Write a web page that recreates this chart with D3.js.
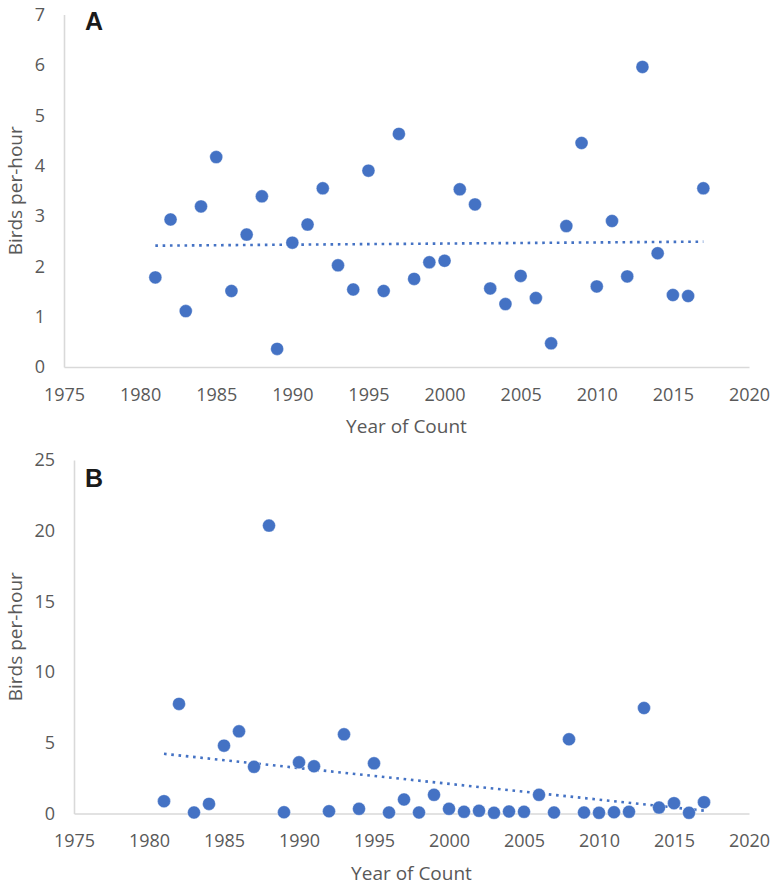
<!DOCTYPE html>
<html><head><meta charset="utf-8">
<script src="https://cdn.jsdelivr.net/npm/d3@7"></script>
<style>
body{margin:0;background:#fff;}
svg{display:block;}
.tick text{font-family:"Open Sans",sans-serif;font-size:18px;fill:#595959;}
.ttl{font-family:"Open Sans",sans-serif;font-size:19px;fill:#595959;}
.pl{font-family:"Liberation Sans",Arial,sans-serif;font-size:25px;font-weight:bold;fill:#1a1a1a;}
</style></head>
<body>
<script>
const years = d3.range(1981, 2018);
const valuesA = [1.78,2.93,1.11,3.19,4.17,1.51,2.63,3.39,0.36,2.47,2.83,3.55,2.02,1.54,3.90,1.51,4.63,1.75,2.08,2.11,3.53,3.23,1.56,1.25,1.81,1.37,0.47,2.80,4.45,1.60,2.90,1.80,5.96,2.26,1.43,1.41,3.55];
const valuesB = [0.87,7.75,0.07,0.68,4.80,5.81,3.30,20.36,0.09,3.62,3.34,0.16,5.60,0.33,3.55,0.07,0.99,0.07,1.32,0.33,0.12,0.19,0.05,0.14,0.12,1.32,0.07,5.25,0.07,0.05,0.09,0.12,7.46,0.42,0.73,0.05,0.80];
const trendA = [[1981,2.41],[2017,2.49]];
const trendB = [[1981,4.22],[2017,0.20]];
const xTicks = [1975,1980,1985,1990,1995,2000,2005,2010,2015,2020];
const yTicksA = [0,1,2,3,4,5,6,7];
const yTicksB = [0,5,10,15,20,25];
const panelLabels = ["A","B"];
const xTitle = "Year of Count";
const yTitle = "Birds per-hour";

const svg = d3.select("body").append("svg").attr("width",775).attr("height",884);
const color = "#4472C4";

function panel(cfg){
  const x = d3.scaleLinear().domain([1975,2020]).range([cfg.x0, 749]);
  const y = d3.scaleLinear().domain(cfg.ydom).range([cfg.ybot, cfg.ytop]);
  const g = svg.append("g");
  const ya = g.append("g").attr("transform",`translate(${cfg.x0},0)`)
    .call(d3.axisLeft(y).tickValues(cfg.yticks).tickSize(0).tickSizeOuter(0).tickPadding(19).tickFormat(d3.format("d")));
  const xa = g.append("g").attr("transform",`translate(0,${cfg.ybot})`)
    .call(d3.axisBottom(x).tickValues(xTicks).tickSize(0).tickSizeOuter(0).tickPadding(21.2).tickFormat(d3.format("d")));
  [ya,xa].forEach(a=>a.select(".domain").attr("stroke","#d9d9d9").attr("stroke-width",1.6));
  g.append("text").attr("class","ttl").attr("text-anchor","middle")
    .attr("x",(cfg.x0+749)/2).attr("y",cfg.ybot+66).text(xTitle);
  g.append("text").attr("class","ttl").attr("text-anchor","middle")
    .attr("transform",`translate(22,${(cfg.ybot+cfg.ytop)/2}) rotate(-90)`).text(yTitle);
  g.append("text").attr("class","pl").attr("x",85).attr("y",cfg.lblY).text(cfg.label);
  g.append("path").datum(cfg.trend)
    .attr("d",d3.line().x(d=>x(d[0])).y(d=>y(d[1])))
    .attr("fill","none").attr("stroke",color).attr("stroke-width",2.6)
    .attr("stroke-dasharray","2.6,4.7");
  g.selectAll("circle.pt").data(years.map((yr,i)=>[yr,cfg.vals[i]])).join("circle")
    .attr("class","pt").attr("cx",d=>x(d[0])).attr("cy",d=>y(d[1])).attr("r",6.5)
    .attr("fill",color).attr("stroke","#fff").attr("stroke-width",0.6).attr("stroke-opacity",0.6);
}

panel({x0:64, ybot:367, ytop:14.6, ydom:[0,7], yticks:yTicksA, vals:valuesA, trend:trendA, label:panelLabels[0], lblY:30});
panel({x0:74, ybot:813.5, ytop:460, ydom:[0,25], yticks:yTicksB, vals:valuesB, trend:trendB, label:panelLabels[1], lblY:487});
</script>
</body></html>
